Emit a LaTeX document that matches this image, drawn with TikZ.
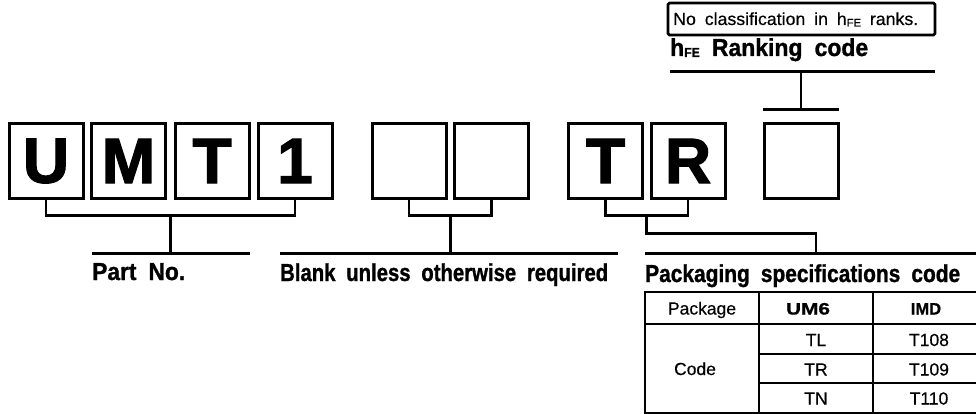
\documentclass[tikz,border=0pt]{standalone}
\usepackage{fontspec}
\usepackage{graphicx}
\setmainfont[FakeBold=0.4]{Liberation Sans}
\newfontfamily\lblfont[WordSpace=1.9,FakeBold=1.2]{Liberation Sans Bold}
\newfontfamily\notefont[WordSpace=1.8,FakeBold=0.4]{Liberation Sans}
\newfontfamily\boxfont[FakeBold=2]{Liberation Sans Bold}
\newfontfamily\tbfont[FakeBold=0.8]{Liberation Sans Bold}
\usetikzlibrary{calc}
\tikzset{
  letterbox/.style={draw,line width=3pt,minimum width=74pt,minimum height=74pt,inner sep=0pt,
    font=\boxfont\fontsize{64}{64}\selectfont},
  br/.style={line width=2.6pt,line cap=rect},
  uline/.style={line width=3pt},
  lbl/.style={anchor=base west,inner sep=0pt,font=\lblfont\fontsize{24.5}{28}\selectfont},
  tline/.style={line width=1.5pt},
  tout/.style={line width=2.2pt},
  ttext/.style={anchor=base,inner sep=0pt,font=\fontsize{17.5}{20}\selectfont},
  tbold/.style={anchor=base,inner sep=0pt,font=\tbfont\fontsize{16.5}{18}\selectfont},
}
\newcommand{\fitw}[2]{\resizebox{#1}{\height}{#2}}
\newcommand{\hfe}{h{\fontsize{13}{13}\selectfont\raisebox{-1pt}{FE}}}
\newcommand{\hfesmall}{h{\fontsize{11}{11}\selectfont\raisebox{-1.5pt}{FE}}}
\begin{document}
\begin{tikzpicture}[x=1pt,y=-1pt]
\useasboundingbox (0,0) rectangle (976,414);
% letter boxes
\node[letterbox] (bU) at (46,161) {U};
\node[letterbox] (bM) at (128.5,161) {M};
\node[letterbox] (bT) at (212,161) {T};
\node[letterbox] (b1) at (295,161) {1};
\node[letterbox] (bB1) at (409,161) {};
\node[letterbox] (bB2) at (491.5,161) {};
\node[letterbox] (bT2) at (605.5,161) {T};
\node[letterbox] (bR) at (688,161) {R};
\node[letterbox] (bH) at (801,161) {};
% underline coordinates
\coordinate (uPartL) at (92,253);
\coordinate (uPartR) at (250,253);
\coordinate (uBlankL) at (280,253);
\coordinate (uBlankR) at (618,253);
\coordinate (uPackL) at (645,253);
\coordinate (uPackR) at (990,253);
\draw[uline] (uPartL) -- (uPartR);
\draw[uline] (uBlankL) -- (uBlankR);
\draw[uline] (uPackL) -- (uPackR);
% labels
\node[lbl] (tPart) at (92,280) {\fitw{93pt}{Part No.}};
\node[lbl] (tBlank) at (280,281) {\fitw{328pt}{Blank unless otherwise required}};
\node[lbl] (tPack) at (645,282) {\fitw{315pt}{Packaging specifications code}};
% brackets
\draw[br] (bU.south) -- ++(0,16) -| (b1.south);
\coordinate (mPart) at ($(bU.south)!0.5!(b1.south)+(0,16)$);
\draw[br] (mPart) -- (mPart |- uPartL);
\draw[br] (bB1.south) -- ++(0,16) -| (bB2.south);
\coordinate (mBlank) at ($(bB1.south)!0.5!(bB2.south)+(0,16)$);
\draw[br] (mBlank) -- (mBlank |- uBlankL);
\draw[br] (bT2.south) -- ++(0,16) -| (bR.south);
\coordinate (mPack) at ($(bT2.south)!0.5!(bR.south)+(0,16)$);
\coordinate (kPack) at (816,253);
\draw[br] (mPack) -- ++(0,18) -| (kPack);
% hFE ranking
\node[draw,line width=2.6pt,rounded corners=1.5pt,minimum width=267pt,minimum height=32pt,inner sep=0pt] (nbox) at (801.5,19) {};
\node[anchor=base west,inner sep=0pt,font=\notefont\fontsize{17.5}{20}\selectfont] (tNote) at (673,25) {\fitw{245pt}{No classification in \hfesmall\ ranks.}};
\node[lbl] (tRank) at (670,56) {\fitw{198pt}{\hfe\ Ranking code}};
\coordinate (uRankL) at (670,72);
\coordinate (uRankR) at (935,72);
\draw[uline] (uRankL) -- (uRankR);
\coordinate (rTop) at (bH.center |- uRankL);
\coordinate (rBot) at ($(bH.north)+(0,-13)$);
\draw[br] (rTop) -- (rBot);
\draw[uline] ($(rBot)+(-38,0)$) -- ($(rBot)+(38,0)$);
% table
\draw[tout] (645,292) rectangle (990,413);
\draw[tline] (645,324) -- (990,324);
\draw[tline] (759,354) -- (990,354);
\draw[tline] (759,383) -- (990,383);
\draw[tline] (759,292) -- (759,413);
\draw[tline] (873,292) -- (873,413);
\node[ttext] (cPkg) at (702,314.5) {Package};
\node[tbold] (cUM) at (808,314.5) {\fitw{44pt}{UM6}};
\node[tbold] (cIMD) at (926,314.5) {IMD};
\node[ttext] (cCode) at (695,375) {Code};
\node[ttext] (cTL) at (816,346) {TL};
\node[ttext] (cTR) at (816,375.5) {TR};
\node[ttext] (cTN) at (816,404.5) {TN};
\node[ttext] (c108) at (929,346) {T108};
\node[ttext] (c109) at (929,375.5) {T109};
\node[ttext] (c110) at (929,404.5) {T110};
\end{tikzpicture}
\end{document}
